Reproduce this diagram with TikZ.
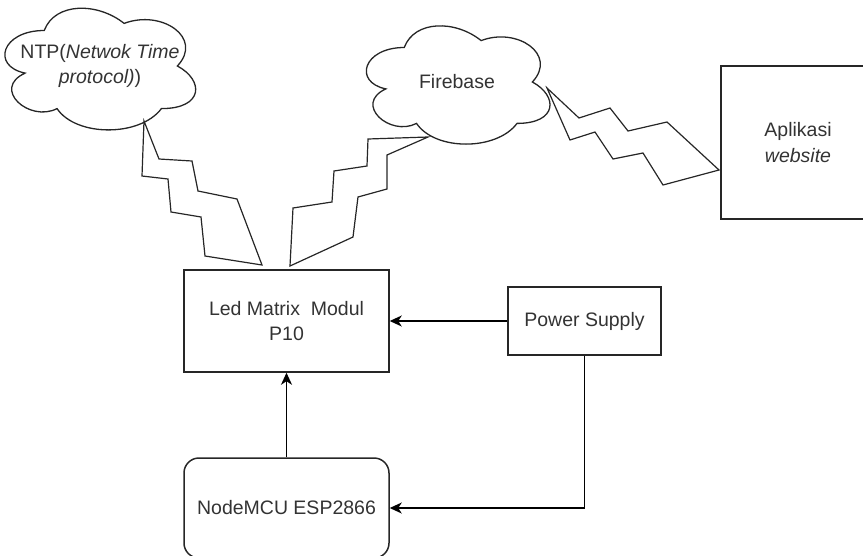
\documentclass[tikz,border=0pt]{standalone}
\usepackage{fontspec}
\setmainfont{Liberation Sans}
\usetikzlibrary{arrows.meta}
\newcommand\drawioCloud[4]{% x0 y0 w h
  \draw[cloudline] ({#1+0.25*#3},{#2+0.25*#4})
    .. controls ({#1+0.05*#3},{#2+0.25*#4}) and ({#1},{#2+0.5*#4}) .. ({#1+0.16*#3},{#2+0.55*#4})
    .. controls ({#1},{#2+0.66*#4}) and ({#1+0.18*#3},{#2+0.9*#4}) .. ({#1+0.31*#3},{#2+0.8*#4})
    .. controls ({#1+0.4*#3},{#2+#4}) and ({#1+0.7*#3},{#2+#4}) .. ({#1+0.8*#3},{#2+0.8*#4})
    .. controls ({#1+#3},{#2+0.8*#4}) and ({#1+#3},{#2+0.6*#4}) .. ({#1+0.875*#3},{#2+0.5*#4})
    .. controls ({#1+#3},{#2+0.3*#4}) and ({#1+0.8*#3},{#2+0.1*#4}) .. ({#1+0.625*#3},{#2+0.2*#4})
    .. controls ({#1+0.5*#3},{#2+0.05*#4}) and ({#1+0.3*#3},{#2+0.05*#4}) .. cycle;}
\begin{document}
\begin{tikzpicture}[x=1pt,y=-1pt,
  txt/.style={font=\fontsize{19.5}{25.5}\selectfont, text=black!80, align=center},
  box/.style={draw=black!85, line width=1.5pt, txt, inner sep=0pt},
  cloudline/.style={draw=black!85, line width=1.3pt},
  bolt/.style={draw=black!85, line width=1.2pt, line join=miter},
  arr/.style={draw=black, line width=1.5pt, -{Stealth[length=12pt,width=11pt,inset=3.5pt]}}]
\useasboundingbox (0,0) rectangle (863,555);

% clouds
\drawioCloud{-9}{-5}{213}{142}
\node[txt] (ntp) at (100,66) {NTP(\textit{Netwok Time}\\\textit{protocol)})};
\drawioCloud{353}{13}{205}{138}
\node[txt] (fb) at (457,82) {Firebase};

% boxes
\node[box, minimum width=205pt, minimum height=102pt] (led) at (286.5,321) {Led Matrix\ \ Modul\\P10};
\node[box, minimum width=153pt, minimum height=68pt] (ps) at (584.5,321) {Power Supply};
\node[box, rounded corners=15pt, minimum width=205pt, minimum height=100pt] (mcu) at (286.5,508) {NodeMCU ESP2866};
\node[box, minimum width=154pt, minimum height=153pt] (app) at (798,142.5) {Aplikasi\\\textit{website}};

% lightning links
\draw[bolt] (144,121) -- (142,176) -- (168,179) -- (171,212) -- (201,217) -- (205,256) -- (262,265)
  -- (237,199) -- (198,191) -- (192,161) -- (159,159) -- cycle;
\draw[bolt] (290,266) -- (293,208) -- (332,202) -- (334,171) -- (367,166) -- (368,139) -- (428,137)
  -- (387,155) -- (387,189) -- (358,197) -- (353,237) -- cycle;
\draw[bolt] (547,88) -- (579,118) -- (610,108) -- (628,131) -- (667,122) -- (719,170)
  -- (663,185) -- (643,153) -- (613,159) -- (595,132) -- (570,140) -- cycle;

% arrows
\draw[arr] (ps.west) -- (led.east);
\draw[arr] (mcu.north) -- (led.south);
\draw[arr] (ps.south) |- (mcu.east);
\end{tikzpicture}
\end{document}
